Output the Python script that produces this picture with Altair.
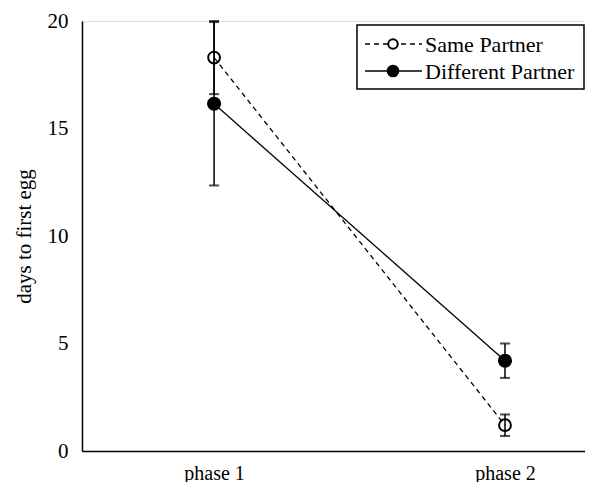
import altair as alt
import pandas as pd

# data
phases = [1, 2]
phase_labels = ["phase 1", "phase 2"]
same_mean = [18.3, 1.2]
same_err = [1.7, 0.5]
diff_mean = [16.15, 4.2]
diff_err = [3.8, 0.8]

rows = []
for g, m, e in [("Same Partner", same_mean, same_err), ("Different Partner", diff_mean, diff_err)]:
    for p, mm, ee in zip(phases, m, e):
        rows.append({"group": g, "phase": p, "mean": mm, "lo": mm - ee, "hi": mm + ee})
df = pd.DataFrame(rows)

FONT = "Times New Roman, Liberation Serif, DejaVu Serif, serif"
W, H = 503, 430

xscale = alt.Scale(domain=[0.546, 2.275], nice=False, zero=False)
yscale = alt.Scale(domain=[0, 20], nice=False)

xenc = alt.X("phase:Q", scale=xscale,
             axis=alt.Axis(values=phases, labelExpr="'phase ' + datum.value", title=None,
                           ticks=False, grid=False, labelPadding=12, labelFontSize=20,
                           labelFont=FONT, labelColor="black", domainColor="black", domainWidth=1.5))
yenc = alt.Y("mean:Q", scale=yscale,
             axis=alt.Axis(values=[0, 5, 10, 15, 20], title="days to first egg", ticks=False, grid=False,
                           labelPadding=14, labelFontSize=21, labelFont=FONT, labelColor="black",
                           titleFont=FONT, titleFontSize=21, titleFontWeight="normal", titleColor="black",
                           titlePadding=13, domainColor="black", domainWidth=1.5))

base = alt.Chart(df)

same = base.transform_filter(alt.datum.group == "Same Partner")
diff = base.transform_filter(alt.datum.group == "Different Partner")

line_same = same.mark_line(color="black", strokeWidth=1.3, strokeDash=[5, 4]).encode(x=xenc, y=yenc)
line_diff = diff.mark_line(color="black", strokeWidth=1.3).encode(x=xenc, y=yenc)

err = base.mark_rule(color="black", strokeWidth=1.5).encode(x="phase:Q", y="lo:Q", y2="hi:Q")
cap_lo = base.mark_tick(color="black", orient="horizontal", size=10, thickness=2).encode(x="phase:Q", y="lo:Q")
cap_hi = base.mark_tick(color="black", orient="horizontal", size=10, thickness=2).encode(x="phase:Q", y="hi:Q")

pt_same = same.mark_point(shape="circle", size=140, filled=False, color="black", strokeWidth=2, opacity=1).encode(x="phase:Q", y="mean:Q")
pt_diff = diff.mark_point(shape="circle", size=200, filled=True, color="black", opacity=1).encode(x="phase:Q", y="mean:Q")

# legend (drawn by hand)
leg_names = ["Same Partner", "Different Partner"]
leg = pd.DataFrame({"name": leg_names, "row": [0, 1]})
lb = alt.Chart(leg)
box = alt.Chart(pd.DataFrame({"a": [0]})).mark_rect(fill="white", stroke="black", strokeWidth=1.5).encode(
    x=alt.value(275), x2=alt.value(502), y=alt.value(4), y2=alt.value(68))
leg_line1 = lb.transform_filter(alt.datum.row == 0).mark_rule(color="black", strokeWidth=1.3, strokeDash=[5, 4]).encode(
    x=alt.value(283), x2=alt.value(340), y=alt.value(23))
leg_line2 = lb.transform_filter(alt.datum.row == 1).mark_rule(color="black", strokeWidth=1.3).encode(
    x=alt.value(283), x2=alt.value(340), y=alt.value(50))
leg_pt1 = lb.transform_filter(alt.datum.row == 0).mark_point(shape="circle", size=90, filled=True, fill="white", stroke="black", strokeWidth=2, opacity=1).encode(
    x=alt.value(311), y=alt.value(23))
leg_pt2 = lb.transform_filter(alt.datum.row == 1).mark_point(shape="circle", size=160, filled=True, color="black", opacity=1).encode(
    x=alt.value(311), y=alt.value(50))
leg_t1 = lb.transform_filter(alt.datum.row == 0).mark_text(align="left", baseline="middle", font=FONT, fontSize=22, color="black").encode(
    x=alt.value(343), y=alt.value(24), text="name:N")
leg_t2 = lb.transform_filter(alt.datum.row == 1).mark_text(align="left", baseline="middle", font=FONT, fontSize=22, color="black").encode(
    x=alt.value(343), y=alt.value(51), text="name:N")

chart = alt.layer(line_same, line_diff, err, cap_lo, cap_hi, pt_same, pt_diff,
                  box, leg_line1, leg_line2, leg_pt1, leg_pt2, leg_t1, leg_t2).properties(
    width=W, height=H, autosize=alt.AutoSizeParams(type="none"),
    padding={"left": 74, "top": 13, "right": 0, "bottom": 31}
).configure_view(stroke=None).configure(background="white", font=FONT)

chart.save("out.html", embed_options={"renderer": "svg", "actions": False})
